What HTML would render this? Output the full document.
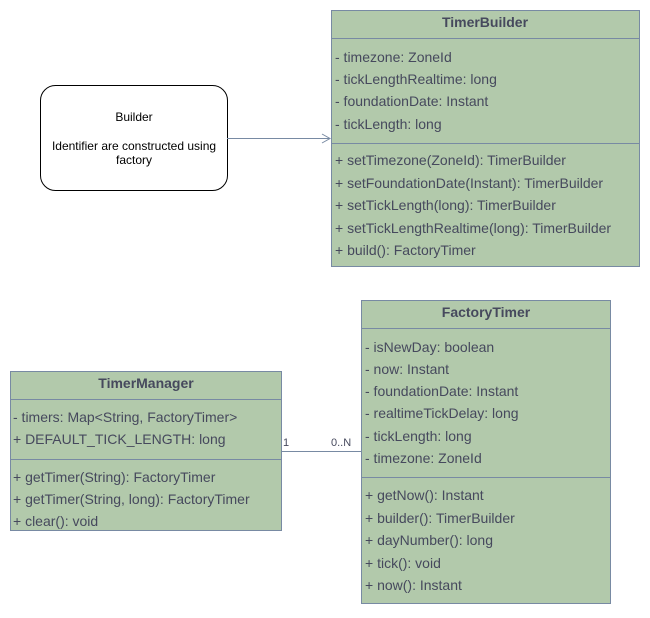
<!DOCTYPE html>
<html><head><meta charset="utf-8"><style>
html,body{margin:0;padding:0;background:#fff;}
svg text{font-family:"Liberation Sans",sans-serif;fill:#46495D;}
</style></head><body>
<svg width="650" height="613" viewBox="0 0 650 613" xmlns="http://www.w3.org/2000/svg">
<!-- Builder note -->
<rect x="40.5" y="85.5" width="187" height="105" rx="15" fill="#fff" stroke="#000"/>
<g font-size="12" text-anchor="middle">
<text x="134" y="121" style="fill:#000">Builder</text>
<text x="134" y="150" style="fill:#000">Identifier are constructed using</text>
<text x="134" y="164" style="fill:#000">factory</text>
</g>
<line x1="227" y1="138.5" x2="329" y2="138.5" stroke="#788AA3"/>
<path d="M322 134 L330 138.5 L322 143" fill="none" stroke="#788AA3"/>

<!-- TimerBuilder -->
<rect x="331.5" y="10.5" width="308" height="256" fill="#B2C9AB" stroke="#788AA3"/>
<line x1="331.5" y1="38.5" x2="639.5" y2="38.5" stroke="#788AA3"/>
<line x1="331.5" y1="143.5" x2="639.5" y2="143.5" stroke="#788AA3"/>
<text x="485" y="27" font-size="14" font-weight="bold" text-anchor="middle">TimerBuilder</text>
<g font-size="14">
<text x="335" y="62">- timezone: ZoneId</text>
<text x="335" y="84">- tickLengthRealtime: long</text>
<text x="335" y="106">- foundationDate: Instant</text>
<text x="335" y="129">- tickLength: long</text>
<text x="335" y="165">+ setTimezone(ZoneId): TimerBuilder</text>
<text x="335" y="188">+ setFoundationDate(Instant): TimerBuilder</text>
<text x="335" y="210">+ setTickLength(long): TimerBuilder</text>
<text x="335" y="233">+ setTickLengthRealtime(long): TimerBuilder</text>
<text x="335" y="255">+ build(): FactoryTimer</text>
</g>

<!-- connector -->
<line x1="281" y1="451.5" x2="361" y2="451.5" stroke="#788AA3"/>
<text x="283" y="446" font-size="11">1</text>
<text x="331" y="446" font-size="11">0..N</text>

<!-- TimerManager -->
<rect x="10.5" y="371.5" width="271" height="159" fill="#B2C9AB" stroke="#788AA3"/>
<line x1="10.5" y1="399.5" x2="281.5" y2="399.5" stroke="#788AA3"/>
<line x1="10.5" y1="459.5" x2="281.5" y2="459.5" stroke="#788AA3"/>
<text x="146" y="388" font-size="14" font-weight="bold" text-anchor="middle">TimerManager</text>
<g font-size="14">
<text x="13" y="422">- timers: Map&lt;String, FactoryTimer&gt;</text>
<text x="13" y="444">+ DEFAULT_TICK_LENGTH: long</text>
<text x="13" y="482">+ getTimer(String): FactoryTimer</text>
<text x="13" y="504">+ getTimer(String, long): FactoryTimer</text>
<text x="13" y="526">+ clear(): void</text>
</g>

<!-- FactoryTimer -->
<rect x="361.5" y="300.5" width="249" height="303" fill="#B2C9AB" stroke="#788AA3"/>
<line x1="361.5" y1="328.5" x2="610.5" y2="328.5" stroke="#788AA3"/>
<line x1="361.5" y1="477.5" x2="610.5" y2="477.5" stroke="#788AA3"/>
<text x="486" y="317" font-size="14" font-weight="bold" text-anchor="middle">FactoryTimer</text>
<g font-size="14">
<text x="365" y="352">- isNewDay: boolean</text>
<text x="365" y="374">- now: Instant</text>
<text x="365" y="396">- foundationDate: Instant</text>
<text x="365" y="418">- realtimeTickDelay: long</text>
<text x="365" y="441">- tickLength: long</text>
<text x="365" y="463">- timezone: ZoneId</text>
<text x="365" y="500">+ getNow(): Instant</text>
<text x="365" y="523">+ builder(): TimerBuilder</text>
<text x="365" y="545">+ dayNumber(): long</text>
<text x="365" y="568">+ tick(): void</text>
<text x="365" y="590">+ now(): Instant</text>
</g>
</svg>
</body></html>
